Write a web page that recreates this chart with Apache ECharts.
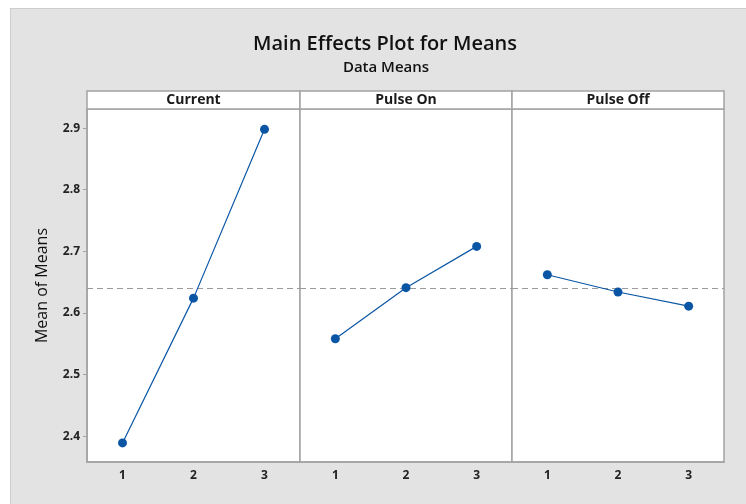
<!DOCTYPE html>
<html lang="en">
<head>
    <meta charset="UTF-8">
    <title>Main Effects Plot for Means</title>
    <style>
        body { margin: 0; background: #fff; }
        #wrap { position: relative; width: 746px; height: 504px; overflow: hidden; }
        #bg {
            position: absolute; left: 10px; top: 8px; right: 0; bottom: 0;
            background-color: #e3e3e3;
            border-left: 1px solid #cecece;
            border-top: 1px solid #cecece;
        }
        #chart { position: absolute; left: 0; top: 0; width: 746px; height: 504px; }
    </style>
</head>
<body>
    <div id="wrap">
        <div id="bg"></div>
        <div id="chart"></div>
    </div>
    <script src="https://cdn.jsdelivr.net/npm/echarts@6/dist/echarts.min.js"></script>
    <script>
        // data
        var factors = ['Current', 'Pulse On', 'Pulse Off'];
        var levels = ['1', '2', '3'];
        var currentMeans = [2.389, 2.624, 2.898];
        var pulseOnMeans = [2.558, 2.641, 2.708];
        var pulseOffMeans = [2.662, 2.634, 2.611];
        var yTicks = [2.4, 2.5, 2.6, 2.7, 2.8, 2.9];

        var allMeans = [currentMeans, pulseOnMeans, pulseOffMeans];
        var flat = [].concat(currentMeans, pulseOnMeans, pulseOffMeans);
        var grandMean = flat.reduce(function (a, b) { return a + b; }, 0) / flat.length;

        var fontFam = '"Open Sans", "Noto Sans", sans-serif';
        var gray = '#a3a3a3';
        var blue = '#0b56a4';
        var panels = [
            { left: 87, width: 213 },
            { left: 300, width: 212 },
            { left: 512, width: 212 }
        ];

        var grids = [], xAxes = [], yAxes = [], series = [], graphics = [];

        panels.forEach(function (p, i) {
            grids.push({
                left: p.left, width: p.width, top: 109, bottom: 42,
                show: true, backgroundColor: '#fff',
                borderColor: gray, borderWidth: 1.5
            });
            xAxes.push({
                type: 'category', gridIndex: i, data: levels,
                boundaryGap: true,
                axisLine: { lineStyle: { color: gray, width: 1.5 } },
                axisTick: { alignWithLabel: true, length: 4, lineStyle: { color: gray } },
                axisLabel: { color: '#222', fontWeight: 'bold', fontSize: 12, fontFamily: fontFam, margin: 8 }
            });
            yAxes.push({
                type: 'value', gridIndex: i, min: 2.358, max: 2.931,
                name: i === 0 ? 'Mean of Means' : '',
                nameLocation: 'middle', nameGap: 37,
                nameTextStyle: { fontSize: 16, color: '#111', fontFamily: fontFam },
                splitLine: { show: false },
                axisLine: { show: i === 0, lineStyle: { color: gray, width: 1.5 } },
                axisTick: { show: i === 0, length: 4, customValues: yTicks, lineStyle: { color: gray } },
                axisLabel: {
                    show: i === 0, customValues: yTicks, color: '#222', fontWeight: 'bold',
                    fontSize: 12, fontFamily: fontFam, margin: 7,
                    formatter: function (v) { return v.toFixed(1); }
                }
            });
            series.push({
                type: 'line', xAxisIndex: i, yAxisIndex: i,
                data: allMeans[i],
                symbol: 'circle', symbolSize: 9,
                itemStyle: { color: blue },
                lineStyle: { color: blue, width: 1.2 },
                silent: true, animation: false,
                markLine: {
                    silent: true, symbol: 'none', label: { show: false },
                    lineStyle: { color: '#9a9a9a', type: [6, 4], width: 1.2 },
                    data: [{ yAxis: grandMean }],
                    z: 1
                },
                z: 3
            });
            graphics.push({
                type: 'rect',
                shape: { x: p.left, y: 91, width: p.width, height: 18 },
                style: { fill: '#fff', stroke: gray, lineWidth: 1.5 }
            });
            graphics.push({
                type: 'text',
                x: p.left + p.width / 2, y: 100,
                style: {
                    text: factors[i], fill: '#1a1a1a', font: 'bold 14px ' + fontFam,
                    textAlign: 'center', textVerticalAlign: 'middle'
                }
            });
        });

        graphics.push({
            type: 'text', x: 385, y: 44,
            style: {
                text: 'Main Effects Plot for Means', fill: '#111', font: '600 20px ' + fontFam,
                textAlign: 'center', textVerticalAlign: 'middle'
            }
        });
        graphics.push({
            type: 'text', x: 386, y: 68,
            style: {
                text: 'Data Means', fill: '#111', font: '600 15px ' + fontFam,
                textAlign: 'center', textVerticalAlign: 'middle'
            }
        });

        var chart = echarts.init(document.getElementById('chart'));
        chart.setOption({
            animation: false,
            grid: grids,
            xAxis: xAxes,
            yAxis: yAxes,
            series: series,
            graphic: graphics
        });
    </script>
</body>
</html>
